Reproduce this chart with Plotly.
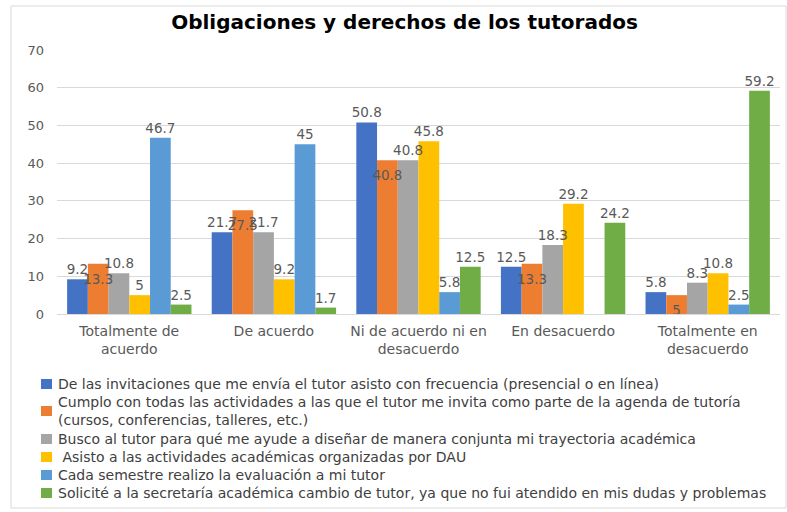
import plotly.graph_objects as go

# Response categories (x axis)
categories = [
    "Totalmente de<br>acuerdo",
    "De acuerdo",
    "Ni de acuerdo ni en<br>desacuerdo",
    "En desacuerdo",
    "Totalmente en<br>desacuerdo",
]

# Series names (legend) and percentages per category
names = [
    "De las invitaciones que me envía el tutor asisto con frecuencia (presencial o en línea)",
    "Cumplo con todas las actividades a las que el tutor me invita como parte de la agenda de tutoría<br>(cursos, conferencias, talleres, etc.)",
    "Busco al tutor para qué me ayude a diseñar de manera conjunta mi trayectoria académica",
    " Asisto a las actividades académicas organizadas por DAU",
    "Cada semestre realizo la evaluación a mi tutor",
    "Solicité a la secretaría académica cambio de tutor, ya que no fui atendido en mis dudas y problemas",
]
invitaciones = [9.2, 21.7, 50.8, 12.5, 5.8]
actividades = [13.3, 27.5, 40.8, 13.3, 5]
trayectoria = [10.8, 21.7, 40.8, 18.3, 8.3]
dau = [5, 9.2, 45.8, 29.2, 10.8]
evaluacion = [46.7, 45, 5.8, None, 2.5]
cambio = [2.5, 1.7, 12.5, 24.2, 59.2]
series = [invitaciones, actividades, trayectoria, dau, evaluacion, cambio]

y_ticks = [0, 10, 20, 30, 40, 50, 60, 70]

colors = ["#4472C4", "#ED7D31", "#A5A5A5", "#FFC000", "#5B9BD5", "#70AD47"]
# value labels sit above each bar, except the orange series (just inside the top)
label_pos = ["top center", "bottom center", "top center", "top center",
             "top center", "top center"]
# invisible marker size per series: sets the gap between bar top and label
label_pad = [1, 14, 1, 1, 1, 1]

W, H = 787, 512
L, R, T, B = 57, 7, 50, 198
FONT = "DejaVu Sans"
GRAY = "#595959"
GAP = 0.14


def px_x(px):
    return (px - L) / (W - L - R)


def px_y(py):
    return (H - B - py) / (H - T - B)


fig = go.Figure()
for name, vals, col in zip(names, series, colors):
    fig.add_trace(go.Bar(
        x=categories,
        y=vals,
        name=name,
        marker=dict(color=col, line=dict(width=0)),
        showlegend=False,
    ))

# Value labels drawn on top of every bar, grouped like the bars
for name, vals, pos, pad in zip(names, series, label_pos, label_pad):
    fig.add_trace(go.Scatter(
        x=categories,
        y=vals,
        mode="markers+text",
        marker=dict(size=pad, opacity=0, color="white"),
        text=[("" if v is None else f"{v:g}") for v in vals],
        textposition=pos,
        textfont=dict(family=FONT, size=13.5, color=GRAY),
        cliponaxis=False,
        showlegend=False,
        hoverinfo="skip",
    ))

# Hand-laid legend: colour square plus label per series
row_y = [384, 411, 439, 457, 475, 493]
for name, col, ry in zip(names, colors, row_y):
    fig.add_shape(
        type="rect", xref="paper", yref="paper",
        x0=px_x(41), x1=px_x(52), y0=px_y(ry - 5), y1=px_y(ry + 5),
        fillcolor=col, line=dict(width=0),
    )
    fig.add_annotation(
        xref="paper", yref="paper", x=px_x(56), y=px_y(ry),
        text=name, showarrow=False, xanchor="left", yanchor="middle",
        align="left", font=dict(family=FONT, size=14, color="#404040"),
    )

# Chart frame
fig.add_shape(
    type="rect", xref="paper", yref="paper",
    x0=px_x(11), x1=px_x(786), y0=px_y(6), y1=px_y(508),
    line=dict(color="#D9D9D9", width=1), fillcolor="rgba(0,0,0,0)",
    layer="below",
)

fig.update_layout(
    width=W, height=H,
    margin=dict(l=L, r=R, t=T, b=B),
    paper_bgcolor="white", plot_bgcolor="white",
    barmode="group", bargap=GAP, bargroupgap=0,
    scattermode="group", scattergap=GAP,
    title=dict(
        text="<b>Obligaciones y derechos de los tutorados</b>",
        x=404.5 / W, xref="container", xanchor="center",
        y=1 - 21.5 / H, yref="container", yanchor="middle",
        font=dict(family=FONT, size=20, color="#000000"),
    ),
    xaxis=dict(
        showgrid=False, showline=True, linecolor="#D9D9D9",
        tickfont=dict(family=FONT, size=14, color=GRAY),
        ticks="", ticklabelstandoff=4,
    ),
    yaxis=dict(
        range=[0, 70], tickvals=y_ticks, showgrid=True, gridcolor="#D9D9D9",
        zeroline=False, showline=False,
        tickfont=dict(family=FONT, size=13, color=GRAY),
        ticks="", ticklabelstandoff=12,
    ),
)

fig.write_html("out.html")
